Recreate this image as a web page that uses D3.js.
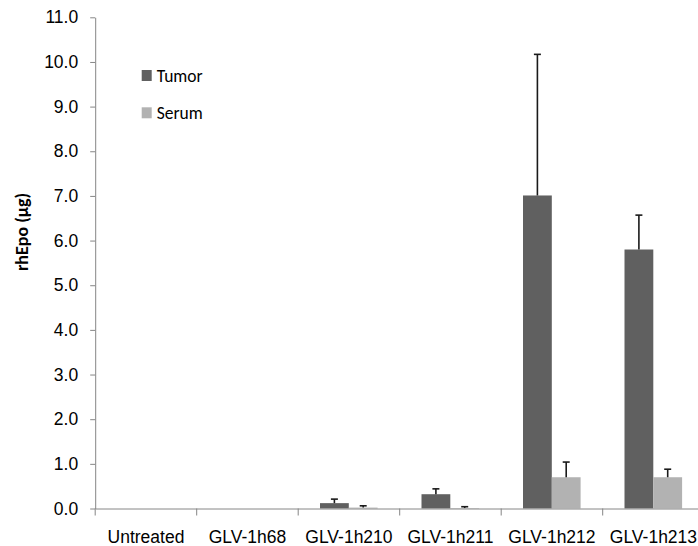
<!DOCTYPE html>
<html>
<head>
<meta charset="utf-8">
<script src="https://cdn.jsdelivr.net/npm/d3@7"></script>
<style>
  body { margin: 0; background: #fff; }
  svg { display: block; font-family: Carlito, Calibri, Lato, sans-serif; }
</style>
</head>
<body>
<svg id="canvas"></svg>
<script>
"use strict";

const categories = ["Untreated", "GLV-1h68", "GLV-1h210", "GLV-1h211", "GLV-1h212", "GLV-1h213"];
const seriesNames = ["Tumor", "Serum"];
const tumor = [0, 0, 0.12, 0.32, 7.01, 5.80];
const tumorErr = [0, 0, 0.09, 0.12, 3.16, 0.77];
const serum = [0, 0, 0.02, 0.01, 0.70, 0.70];
const serumErr = [0, 0, 0.04, 0.03, 0.34, 0.18];
const yTicks = [0, 1, 2, 3, 4, 5, 6, 7, 8, 9, 10, 11];

const width = 698;
const height = 546;
const colors = { Tumor: "#606060", Serum: "#b2b2b2" };
const axisColor = "#868686";
const fontSize = "17.5px";

const canvas = d3.select("#canvas")
    .attr("width", width)
    .attr("height", height);

// rows: one per category and series
let rows = [];
categories.forEach((c, i) => {
    rows.push({ cat: c, series: "Tumor", value: tumor[i], err: tumorErr[i] });
    rows.push({ cat: c, series: "Serum", value: serum[i], err: serumErr[i] });
});

const xScale = d3.scaleBand()
    .domain(categories)
    .range([95.2, 95.2 + 6 * 101.5])
    .padding(0);

const xInner = d3.scaleBand()
    .domain(seriesNames)
    .range([21.8, 21.8 + 57.6])
    .padding(0);

const yScale = d3.scaleLinear()
    .domain([0, 11])
    .range([508.5, 17.3]);

// bars
canvas.append("g")
    .selectAll("rect")
    .data(rows)
    .enter()
    .append("rect")
    .attr("x", (d) => xScale(d.cat) + xInner(d.series))
    .attr("width", xInner.bandwidth())
    .attr("y", (d) => yScale(d.value))
    .attr("height", (d) => yScale(0) - yScale(d.value))
    .attr("fill", (d) => colors[d.series]);

// error bars (plus side only)
let errRows = rows.filter((d) => d.err > 0);
let errG = canvas.append("g")
    .attr("stroke", "#1a1a1a")
    .attr("stroke-width", 1.6);

errG.selectAll("line.stem")
    .data(errRows)
    .enter()
    .append("line")
    .attr("class", "stem")
    .attr("x1", (d) => xScale(d.cat) + xInner(d.series) + xInner.bandwidth() / 2)
    .attr("x2", (d) => xScale(d.cat) + xInner(d.series) + xInner.bandwidth() / 2)
    .attr("y1", (d) => yScale(d.value))
    .attr("y2", (d) => yScale(d.value + d.err));

errG.selectAll("line.cap")
    .data(errRows)
    .enter()
    .append("line")
    .attr("class", "cap")
    .attr("x1", (d) => xScale(d.cat) + xInner(d.series) + xInner.bandwidth() / 2 - 3.5)
    .attr("x2", (d) => xScale(d.cat) + xInner(d.series) + xInner.bandwidth() / 2 + 3.5)
    .attr("y1", (d) => yScale(d.value + d.err))
    .attr("y2", (d) => yScale(d.value + d.err));

// y axis
let yAxis = d3.axisLeft(yScale)
    .tickValues(yTicks)
    .tickFormat(d3.format(".1f"))
    .tickSizeInner(5)
    .tickSizeOuter(0)
    .tickPadding(12);

let yG = canvas.append("g")
    .attr("transform", "translate(95.2, 0)")
    .call(yAxis);
yG.selectAll("line, path").attr("stroke", axisColor);
yG.selectAll("text")
    .attr("fill", "#000")
    .style("font-size", fontSize);

// x axis: ticks sit between categories
let xAxis = d3.axisBottom(xScale)
    .tickSize(0)
    .tickPadding(22);

let xG = canvas.append("g")
    .attr("transform", "translate(0, 508.5)")
    .call(xAxis);
xG.select("path").attr("stroke", axisColor);
xG.selectAll("text")
    .attr("fill", "#000")
    .style("font-size", fontSize);

xG.selectAll("line.sep")
    .data(categories)
    .enter()
    .append("line")
    .attr("class", "sep")
    .attr("x1", (d) => xScale(d))
    .attr("x2", (d) => xScale(d))
    .attr("y1", 0)
    .attr("y2", 7)
    .attr("stroke", axisColor);

// y title
canvas.append("text")
    .attr("transform", "translate(28, 232) rotate(-90)")
    .attr("text-anchor", "middle")
    .style("font-size", "18px")
    .style("font-weight", "bold")
    .text("rhEpo (µg)");

// legend
let legend = canvas.append("g")
    .selectAll("g")
    .data(seriesNames)
    .enter()
    .append("g")
    .attr("transform", (d, i) => "translate(141.7, " + (70 + i * 37.3) + ")");

legend.append("rect")
    .attr("width", 10)
    .attr("height", 11)
    .attr("fill", (d) => colors[d]);

legend.append("text")
    .attr("x", 15)
    .attr("y", 5.5)
    .attr("dy", "0.35em")
    .style("font-size", fontSize)
    .text((d) => d);
</script>
</body>
</html>
